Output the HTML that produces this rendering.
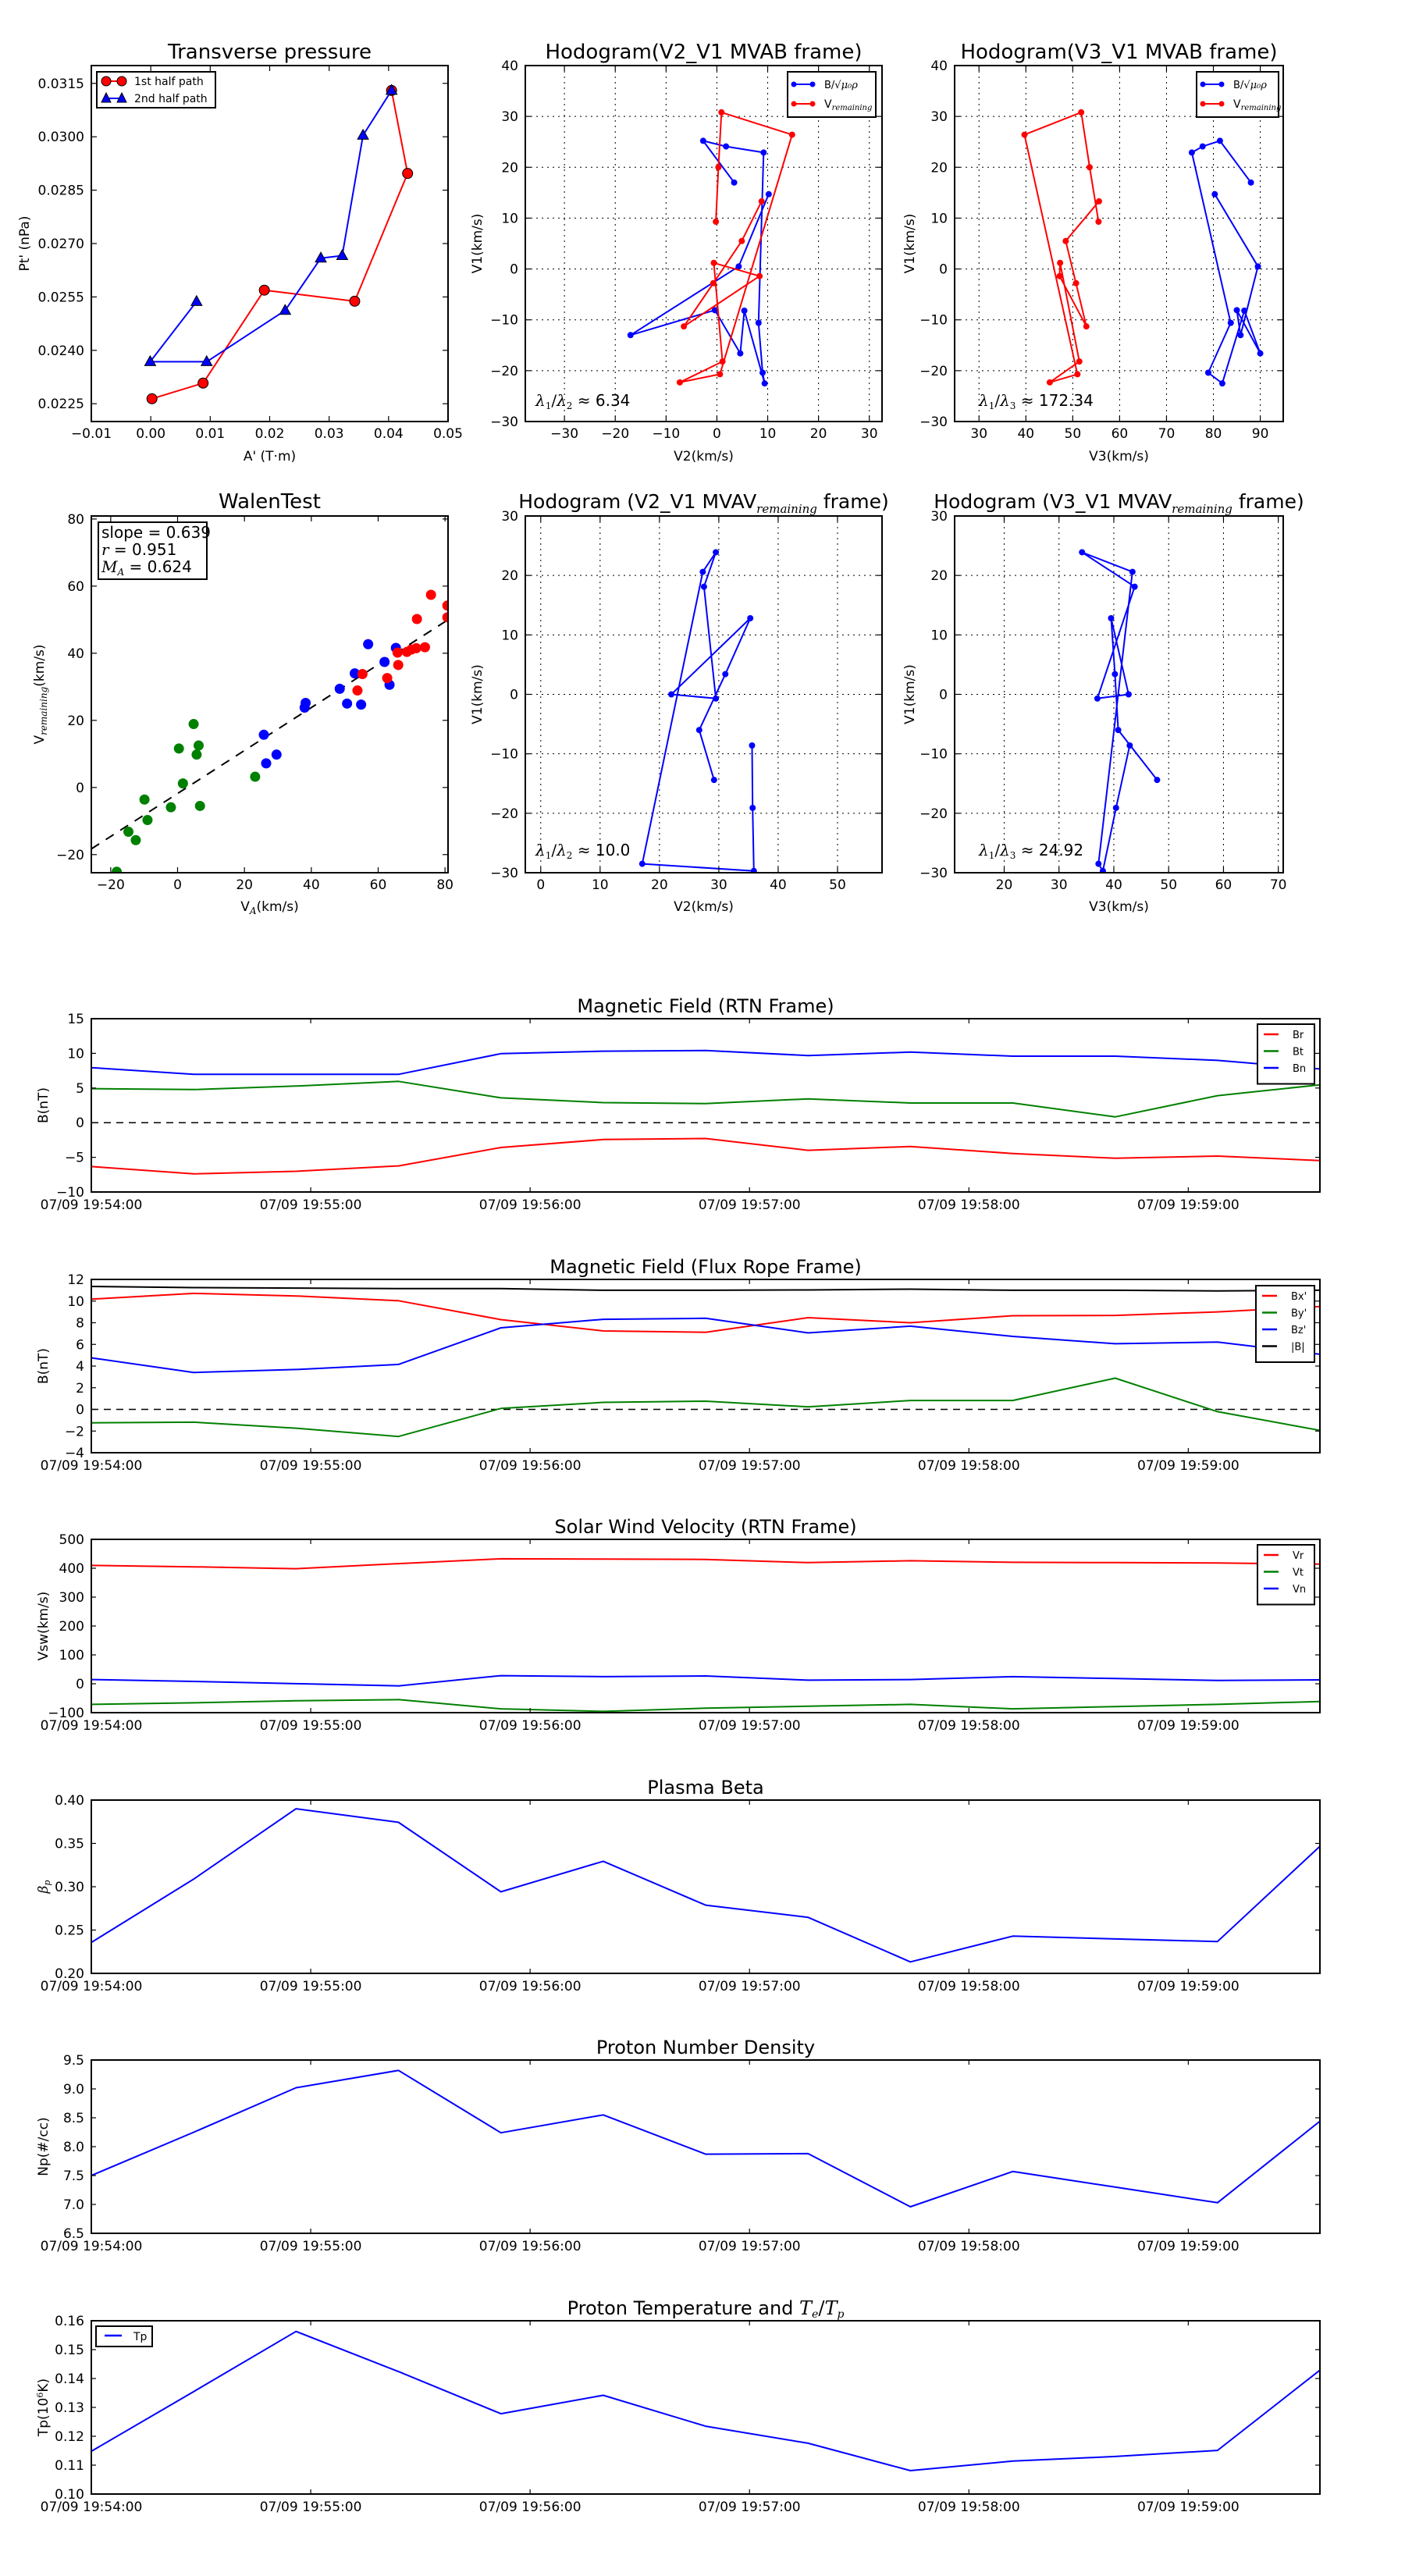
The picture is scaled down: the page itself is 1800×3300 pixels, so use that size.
<!DOCTYPE html>
<html><head><meta charset="utf-8"><title>Flux rope analysis</title>
<style>html,body{margin:0;padding:0;background:#fff}svg{display:block}</style></head>
<body>
<svg id="fig" width="1800" height="3300" viewBox="0 0 1800 3300" xmlns="http://www.w3.org/2000/svg">
<rect x="0" y="0" width="1800" height="3300" fill="#fff"/>
</svg>
<script>
// ---------- Transverse pressure ----------
const ptA1 = [0.0002, 0.0088, 0.0191, 0.0343, 0.0432, 0.0405];
const ptP1 = [0.02264, 0.02308, 0.02569, 0.02538, 0.02897, 0.0313];
const ptA2 = [0.0405, 0.0357, 0.0322, 0.0286, 0.0226, 0.0094, -0.0001, 0.0077];
const ptP2 = [0.0313, 0.03004, 0.02666, 0.02659, 0.02512, 0.02368, 0.02368, 0.02537];
const ptXTicks = [-0.01, 0, 0.01, 0.02, 0.03, 0.04, 0.05];
const ptXLabels = ['\u22120.01', '0.00', '0.01', '0.02', '0.03', '0.04', '0.05'];
const ptYTicks = [0.0225, 0.024, 0.0255, 0.027, 0.0285, 0.03, 0.0315];
const ptYLabels = ['0.0225', '0.0240', '0.0255', '0.0270', '0.0285', '0.0300', '0.0315'];
// ---------- Hodogram MVAB ----------
const hbV2 = [3.4, -2.7, 1.8, 9.2, 8.2, 9.0, 9.4, 5.4, 4.6, -0.4, -17.0, 4.3, 10.2];
const hbV1 = [17.0, 25.2, 24.1, 22.9, -10.6, -20.4, -22.5, -8.2, -16.6, -8.1, -13.0, 0.5, 14.7];
const hbV3 = [88.0, 81.4, 77.7, 75.4, 83.7, 78.9, 81.9, 86.6, 90.0, 85.0, 85.8, 89.5, 80.3];
const hrV2 = [8.8, 4.9, -0.7, -6.5, 8.4, -0.6, 1.1, -7.3, 0.6, 14.8, 0.9, 0.3, -0.2];
const hrV1 = [13.3, 5.5, -2.8, -11.3, -1.4, 1.2, -18.2, -22.3, -20.7, 26.4, 30.8, 20.0, 9.3];
const hrV3 = [55.6, 48.5, 50.7, 52.9, 47.2, 47.3, 51.4, 45.1, 51.0, 39.7, 51.8, 53.6, 55.5];
const ratioAB12 = '6.34';
const ratioAB13 = '172.34';
// ---------- Walen test ----------
const walenGreenX = [-18.2, -14.7, -12.5, -9.9, -9.0, -2.0, 0.4, 1.6, 4.8, 5.7, 6.3, 6.7, 23.2];
const walenGreenY = [-25.1, -13.2, -15.7, -3.6, -9.7, -5.9, 11.6, 1.2, 18.9, 9.8, 12.5, -5.5, 3.2];
const walenBlueX = [25.8, 26.5, 29.6, 38.0, 38.3, 48.5, 50.7, 53.0, 54.9, 57.0, 61.9, 63.4, 65.3];
const walenBlueY = [15.7, 7.2, 9.8, 23.8, 25.2, 29.4, 25.0, 34.0, 24.7, 42.7, 37.4, 30.6, 41.6];
const walenRedX = [53.8, 55.3, 62.7, 65.8, 66.0, 68.6, 69.9, 71.4, 71.6, 74.0, 75.8, 80.7, 80.7];
const walenRedY = [28.9, 33.8, 32.6, 40.2, 36.5, 40.4, 41.1, 41.5, 50.2, 41.8, 57.4, 54.2, 50.7];
const walenFit = [0.640, -1.79];
const walenTicks = [-20, 0, 20, 40, 60, 80];
// ---------- Hodogram MVAV ----------
const hvV2 = [29.2, 26.7, 31.1, 35.3, 22.0, 29.5, 27.5, 29.5, 27.3, 17.1, 35.9, 35.7, 35.6];
const hvV1 = [-14.4, -6.0, 3.4, 12.8, 0.0, -0.7, 18.1, 23.9, 20.6, -28.5, -29.7, -19.1, -8.6];
const hvV3 = [47.9, 40.8, 40.2, 39.5, 42.7, 37.0, 43.8, 34.2, 43.4, 37.2, 38.0, 40.4, 42.9];
const ratioAV12 = '10.0';
const ratioAV13 = '24.92';
// ---------- Time series ----------
const tSec = [0, 28, 56, 84, 112, 140, 168, 196, 224, 252, 280, 308, 336];
const timeTickSec = [0, 60, 120, 180, 240, 300];
const timeTickLabels = ['07/09 19:54:00', '07/09 19:55:00', '07/09 19:56:00', '07/09 19:57:00', '07/09 19:58:00', '07/09 19:59:00'];
const Br = [-6.33, -7.39, -7.02, -6.24, -3.58, -2.43, -2.29, -3.99, -3.44, -4.45, -5.14, -4.82, -5.46];
const Bt = [4.91, 4.77, 5.28, 5.96, 3.58, 2.89, 2.75, 3.44, 2.84, 2.84, 0.83, 3.9, 5.46];
const Bn = [7.94, 6.97, 6.97, 6.97, 9.95, 10.32, 10.41, 9.68, 10.18, 9.59, 9.59, 8.99, 7.75];
const Bx1 = [10.18, 10.71, 10.47, 10.03, 8.29, 7.24, 7.12, 8.47, 8.0, 8.65, 8.68, 9.0, 9.5];
const By1 = [-1.24, -1.18, -1.74, -2.5, 0.09, 0.65, 0.76, 0.24, 0.82, 0.82, 2.88, -0.21, -1.94];
const Bz1 = [4.76, 3.41, 3.68, 4.15, 7.53, 8.32, 8.41, 7.06, 7.68, 6.74, 6.06, 6.21, 5.09];
const Bmag = [11.35, 11.24, 11.2, 11.15, 11.15, 11.0, 11.0, 11.03, 11.1, 11.0, 11.0, 10.94, 11.0];
const Vr = [409.6, 405, 398.5, 416, 432.7, 431.6, 430.5, 419.5, 426, 420.6, 419.5, 418.4, 414];
const Vt = [-71.3, -66, -59, -54.8, -86.7, -95.6, -84.5, -77.9, -71.3, -86.7, -79, -71.3, -61.4];
const Vn = [14.7, 8, 0.4, -7.3, 28, 24.7, 27, 12.5, 14.7, 24.7, 18, 11.4, 13.6];
const beta = [0.2357, 0.3088, 0.390, 0.3743, 0.2941, 0.3294, 0.2787, 0.2647, 0.2132, 0.2430, 0.2397, 0.2368, 0.3467];
const Np = [7.50, 8.25, 9.02, 9.32, 8.24, 8.55, 7.87, 7.88, 6.96, 7.57, 7.30, 7.03, 8.44];
const Tp = [0.1148, 0.1355, 0.1563, 0.1424, 0.1278, 0.1342, 0.1235, 0.1176, 0.1081, 0.1114, 0.1130, 0.1151, 0.1429];

const NS = 'http://www.w3.org/2000/svg';
const svg = document.getElementById('fig');
const FONT = "'DejaVu Sans', 'Liberation Sans', sans-serif";
const SERIF = "'DejaVu Serif', 'Liberation Serif', serif";
function mk(tag, attrs, parent) {
  const e = document.createElementNS(NS, tag);
  for (const k in attrs) e.setAttribute(k, attrs[k]);
  (parent || svg).appendChild(e);
  return e;
}
function nm(e, n, i) {
  
  
  return e;
}
function txt(parent, x, y, s, size, anchor, extra) {
  const a = { x: x, y: y, 'font-family': FONT, 'font-size': size, fill: '#000', 'text-anchor': anchor || 'start' };
  if (extra) for (const k in extra) a[k] = extra[k];
  const t = mk('text', a, parent);
  t.textContent = s;
  return t;
}
let clipId = 0;
function axes(o) {
  const g = mk('g', {});
  nm(g, o.name, false);
  const sx = v => o.x0 + (v - o.xmin) / (o.xmax - o.xmin) * (o.x1 - o.x0);
  const sy = v => o.y1 - (v - o.ymin) / (o.ymax - o.ymin) * (o.y1 - o.y0);
  const fs = o.fs || 17;
  const tl = o.tl || 7;
  clipId++;
  const cp = mk('clipPath', { id: 'c' + clipId }, g);
  mk('rect', { x: o.x0, y: o.y0, width: o.x1 - o.x0, height: o.y1 - o.y0 }, cp);
  if (o.grid) {
    const gg = mk('g', {}, g);
    nm(gg, o.name + '-grid', false);
    o.xticks.forEach(v => { const l = mk('line', { x1: sx(v), x2: sx(v), y1: o.y0, y2: o.y1, stroke: '#000', 'stroke-width': 1, 'stroke-dasharray': '2,5' }, gg); nm(l, 'grid-line-x', false); });
    o.yticks.forEach(v => { const l = mk('line', { y1: sy(v), y2: sy(v), x1: o.x0, x2: o.x1, stroke: '#000', 'stroke-width': 1, 'stroke-dasharray': '2,5' }, gg); nm(l, 'grid-line-y', false); });
  }
  const data = mk('g', { 'clip-path': 'url(#c' + clipId + ')' }, g);
  nm(data, o.name + '-plot-area', false);
  const tg = mk('g', {}, g);
  nm(tg, o.name + '-ticks', false);
  o.xticks.forEach((v, i) => {
    const x = sx(v);
    mk('line', { x1: x, x2: x, y1: o.y1, y2: o.y1 - tl, stroke: '#000', 'stroke-width': 1.2 }, tg);
    mk('line', { x1: x, x2: x, y1: o.y0, y2: o.y0 + tl, stroke: '#000', 'stroke-width': 1.2 }, tg);
    const t = txt(tg, x, o.y1 + (o.xlabOff || 21), o.xlabels[i], fs, 'middle');
    nm(t, 'x-tick-label', false);
  });
  o.yticks.forEach((v, i) => {
    const y = sy(v);
    mk('line', { x1: o.x0, x2: o.x0 + tl, y1: y, y2: y, stroke: '#000', 'stroke-width': 1.2 }, tg);
    mk('line', { x1: o.x1, x2: o.x1 - tl, y1: y, y2: y, stroke: '#000', 'stroke-width': 1.2 }, tg);
    const t = txt(tg, o.x0 - 9, y + 6, o.ylabels[i], fs, 'end');
    nm(t, 'y-tick-label', false);
  });
  const fr = mk('rect', { x: o.x0, y: o.y0, width: o.x1 - o.x0, height: o.y1 - o.y0, fill: 'none', stroke: '#000', 'stroke-width': 2 }, g);
  nm(fr, o.name + '-frame', false);
  if (o.title) {
    const t = txt(g, (o.x0 + o.x1) / 2, o.titleY, '', o.titleFs || 26, 'middle');
    if (typeof o.title === 'string') t.textContent = o.title;
    else o.title(t);
    nm(t, 'chart-title', false);
  }
  if (o.xlabel) {
    const t = txt(g, (o.x0 + o.x1) / 2, o.xlabelY, '', fs, 'middle');
    if (typeof o.xlabel === 'string') t.textContent = o.xlabel; else o.xlabel(t);
    nm(t, 'x-axis-title', false);
  }
  if (o.ylabel) {
    const cy = (o.y0 + o.y1) / 2;
    const t = txt(g, o.ylabelX, cy, '', fs, 'middle', { transform: 'rotate(-90 ' + o.ylabelX + ' ' + cy + ')' });
    if (typeof o.ylabel === 'string') t.textContent = o.ylabel; else o.ylabel(t);
    nm(t, 'y-axis-title', false);
  }
  return { g: g, data: data, sx: sx, sy: sy };
}
function sub(t, s, size, dy, italic) {
  const sp = mk('tspan', { 'font-family': SERIF, 'font-size': size, dy: dy }, t);
  if (italic) sp.setAttribute('font-style', 'italic');
  sp.textContent = s;
  return sp;
}
function plain(t, s, dy) {
  const sp = mk('tspan', { dy: dy || 0 }, t);
  sp.textContent = s;
  return sp;
}
function pathD(ax, xs, ys) {
  return xs.map((v, i) => (i ? 'L' : 'M') + ax.sx(v).toFixed(1) + ',' + ax.sy(ys[i]).toFixed(1)).join(' ');
}
function series(ax, xs, ys, color, w, name, dotR) {
  const g = mk('g', {}, ax.data);
  nm(g, name, false);
  const p = mk('path', { d: pathD(ax, xs, ys), fill: 'none', stroke: color, 'stroke-width': w, 'stroke-linejoin': 'round' }, g);
  nm(p, name + '-line', false);
  if (dotR) xs.forEach((v, i) => {
    const c = mk('circle', { cx: ax.sx(v), cy: ax.sy(ys[i]), r: dotR, fill: color }, g);
    nm(c, name + '-point', false);
  });
  return g;
}
function box(parent, x, y, w, h, name) {
  const g = mk('g', {}, parent);
  nm(g, name, false);
  mk('rect', { x: x, y: y, width: w, height: h, fill: '#fff', stroke: '#000', 'stroke-width': 2 }, g);
  return g;
}
function vremTitle(t, pre, post) {
  plain(t, pre);
  sub(t, 'remaining', 15, 6, true);
  plain(t, post, -6);
}

// ================= Transverse pressure =================
(function () {
  const ax = axes({ name: 'transverse-pressure-chart', x0: 117, x1: 574, y0: 84, y1: 540, xmin: -0.01, xmax: 0.05, ymin: 0.022, ymax: 0.032,
    xticks: ptXTicks, xlabels: ptXLabels, yticks: ptYTicks, ylabels: ptYLabels,
    title: 'Transverse pressure', titleY: 75, xlabel: "A' (T\u00b7m)", xlabelY: 590, ylabel: "Pt' (nPa)", ylabelX: 37 });
  const g1 = series(ax, ptA1, ptP1, '#ff0000', 2, 'first-half-path');
  ptA1.forEach((v, i) => {
    const c = mk('circle', { cx: ax.sx(v), cy: ax.sy(ptP1[i]), r: 6.5, fill: '#ff0000', stroke: '#000', 'stroke-width': 1 }, g1);
    nm(c, 'first-half-marker', false);
  });
  const g2 = series(ax, ptA2, ptP2, '#0000ff', 2, 'second-half-path');
  ptA2.forEach((v, i) => {
    const x = ax.sx(v), y = ax.sy(ptP2[i]);
    const tri = mk('polygon', { points: (x) + ',' + (y - 7.5) + ' ' + (x - 7) + ',' + (y + 5) + ' ' + (x + 7) + ',' + (y + 5), fill: '#0000ff', stroke: '#000', 'stroke-width': 1 }, g2);
    nm(tri, 'second-half-marker', false);
  });
  const lg = box(ax.g, 124, 92, 152, 46, 'legend');
  mk('line', { x1: 136, x2: 156, y1: 104, y2: 104, stroke: '#ff0000', 'stroke-width': 2 }, lg);
  mk('circle', { cx: 136, cy: 104, r: 6, fill: '#ff0000', stroke: '#000' }, lg);
  mk('circle', { cx: 156, cy: 104, r: 6, fill: '#ff0000', stroke: '#000' }, lg);
  nm(txt(lg, 172, 109, '1st half path', 14), 'legend-entry-first-half', false);
  mk('line', { x1: 136, x2: 156, y1: 126, y2: 126, stroke: '#0000ff', 'stroke-width': 2 }, lg);
  mk('polygon', { points: '136,119 130,131 142,131', fill: '#0000ff', stroke: '#000' }, lg);
  mk('polygon', { points: '156,119 150,131 162,131', fill: '#0000ff', stroke: '#000' }, lg);
  nm(txt(lg, 172, 131, '2nd half path', 14), 'legend-entry-second-half', false);
})();

function hodoLegend(parent, x, y, w, name) {
  const lg = box(parent, x, y, w, 58, name);
  mk('line', { x1: x + 8, x2: x + 32, y1: y + 16, y2: y + 16, stroke: '#0000ff', 'stroke-width': 2 }, lg);
  mk('circle', { cx: x + 8, cy: y + 16, r: 3.5, fill: '#0000ff' }, lg);
  mk('circle', { cx: x + 32, cy: y + 16, r: 3.5, fill: '#0000ff' }, lg);
  const t1 = txt(lg, x + 47, y + 21, 'B/\u221a', 13);
  sub(t1, '\u03bc\u2080\u03c1', 13, 0, true);
  nm(t1, 'legend-entry-b-alfven', false);
  mk('line', { x1: x + 8, x2: x + 32, y1: y + 41, y2: y + 41, stroke: '#ff0000', 'stroke-width': 2 }, lg);
  mk('circle', { cx: x + 8, cy: y + 41, r: 3.5, fill: '#ff0000' }, lg);
  mk('circle', { cx: x + 32, cy: y + 41, r: 3.5, fill: '#ff0000' }, lg);
  const t2 = txt(lg, x + 47, y + 46, 'V', 14);
  sub(t2, 'remaining', 10, 3, true);
  nm(t2, 'legend-entry-v-remaining', false);
}
function ratioText(parent, x, y, a, b, val) {
  const t = txt(parent, x, y, '', 20);
  sub(t, '\u03bb', 20, 0, true);
  sub(t, a, 12, 4, false);
  sub(t, '/', 20, -4, false);
  sub(t, '\u03bb', 20, 0, true);
  sub(t, b, 12, 4, false);
  plain(t, ' \u2248 ' + val, -4);
  nm(t, 'eigenvalue-ratio-label', false);
}

// ================= Hodogram V2_V1 MVAB =================
(function () {
  const ax = axes({ name: 'hodogram-v2-v1-mvab', x0: 673, x1: 1130, y0: 84, y1: 540, xmin: -37.7, xmax: 32.5, ymin: -30, ymax: 40,
    xticks: [-30, -20, -10, 0, 10, 20, 30], xlabels: ['\u221230', '\u221220', '\u221210', '0', '10', '20', '30'],
    yticks: [-30, -20, -10, 0, 10, 20, 30, 40], ylabels: ['\u221230', '\u221220', '\u221210', '0', '10', '20', '30', '40'], grid: true,
    title: 'Hodogram(V2_V1 MVAB frame)', titleY: 75, xlabel: 'V2(km/s)', xlabelY: 590, ylabel: 'V1(km/s)', ylabelX: 617 });
  series(ax, hbV2, hbV1, '#0000ff', 2, 'b-alfven-series', 4);
  series(ax, hrV2, hrV1, '#ff0000', 2, 'v-remaining-series', 4);
  hodoLegend(ax.g, 1009, 92, 113, 'legend');
  ratioText(ax.g, 686, 520, '1', '2', ratioAB12);
})();

// ================= Hodogram V3_V1 MVAB =================
(function () {
  const ax = axes({ name: 'hodogram-v3-v1-mvab', x0: 1223, x1: 1644, y0: 84, y1: 540, xmin: 24.8, xmax: 94.9, ymin: -30, ymax: 40,
    xticks: [30, 40, 50, 60, 70, 80, 90], xlabels: ['30', '40', '50', '60', '70', '80', '90'],
    yticks: [-30, -20, -10, 0, 10, 20, 30, 40], ylabels: ['\u221230', '\u221220', '\u221210', '0', '10', '20', '30', '40'], grid: true,
    title: 'Hodogram(V3_V1 MVAB frame)', titleY: 75, xlabel: 'V3(km/s)', xlabelY: 590, ylabel: 'V1(km/s)', ylabelX: 1171 });
  series(ax, hbV3, hbV1, '#0000ff', 2, 'b-alfven-series', 4);
  series(ax, hrV3, hrV1, '#ff0000', 2, 'v-remaining-series', 4);
  hodoLegend(ax.g, 1533, 92, 105, 'legend');
  ratioText(ax.g, 1254, 520, '1', '3', ratioAB13);
})();

// ================= Walen test =================
(function () {
  const ax = axes({ name: 'walen-test-chart', x0: 117, x1: 574, y0: 661, y1: 1118, xmin: -25.8, xmax: 80.9, ymin: -25.4, ymax: 80.9,
    xticks: walenTicks, xlabels: ['\u221220', '0', '20', '40', '60', '80'], yticks: walenTicks, ylabels: ['\u221220', '0', '20', '40', '60', '80'],
    title: 'WalenTest', titleY: 651, xlabel: function (t) { plain(t, 'V'); sub(t, 'A', 12, 4, true); plain(t, '(km/s)', -4); }, xlabelY: 1167,
    ylabel: function (t) { plain(t, 'V'); sub(t, 'remaining', 12, 4, true); plain(t, '(km/s)', -4); }, ylabelX: 56 });
  const fitX = [ax.sx(-25.8), ax.sx(80.9)];
  const fl = mk('line', { x1: fitX[0], y1: ax.sy(walenFit[0] * -25.8 + walenFit[1]), x2: fitX[1], y2: ax.sy(walenFit[0] * 80.9 + walenFit[1]), stroke: '#000', 'stroke-width': 2, 'stroke-dasharray': '12,10' }, ax.data);
  nm(fl, 'regression-line', false);
  [[walenGreenX, walenGreenY, '#008000', 'green-points'], [walenBlueX, walenBlueY, '#0000ff', 'blue-points'], [walenRedX, walenRedY, '#ff0000', 'red-points']].forEach(s => {
    const g = mk('g', {}, ax.data);
    nm(g, s[3], false);
    s[0].forEach((v, i) => {
      const c = mk('circle', { cx: ax.sx(v), cy: ax.sy(s[1][i]), r: 6.5, fill: s[2] }, g);
      nm(c, 'walen-point', false);
    });
  });
  const b = box(ax.g, 126, 669, 139, 73, 'walen-stats-box');
  nm(txt(b, 130, 689, 'slope = 0.639', 20), 'slope-label', false);
  const t2 = txt(b, 130, 711, '', 20);
  sub(t2, 'r', 20, 0, true); plain(t2, ' = 0.951');
  nm(t2, 'correlation-label', false);
  const t3 = txt(b, 130, 733, '', 20);
  sub(t3, 'M', 20, 0, true); sub(t3, 'A', 12, 4, true); plain(t3, ' = 0.624', -4);
  nm(t3, 'alfven-mach-label', false);
})();

// ================= Hodogram V2_V1 MVAV =================
(function () {
  const ax = axes({ name: 'hodogram-v2-v1-mvav', x0: 673, x1: 1130, y0: 661, y1: 1118, xmin: -2.6, xmax: 57.5, ymin: -30, ymax: 30,
    xticks: [0, 10, 20, 30, 40, 50], xlabels: ['0', '10', '20', '30', '40', '50'],
    yticks: [-30, -20, -10, 0, 10, 20, 30], ylabels: ['\u221230', '\u221220', '\u221210', '0', '10', '20', '30'], grid: true,
    title: function (t) { vremTitle(t, 'Hodogram (V2_V1 MVAV', ' frame)'); }, titleY: 651, titleFs: 25, xlabel: 'V2(km/s)', xlabelY: 1167, ylabel: 'V1(km/s)', ylabelX: 617 });
  series(ax, hvV2, hvV1, '#0000ff', 2, 'mvav-series', 4);
  ratioText(ax.g, 686, 1096, '1', '2', ratioAV12);
})();

// ================= Hodogram V3_V1 MVAV =================
(function () {
  const ax = axes({ name: 'hodogram-v3-v1-mvav', x0: 1223, x1: 1644, y0: 661, y1: 1118, xmin: 10.96, xmax: 70.9, ymin: -30, ymax: 30,
    xticks: [20, 30, 40, 50, 60, 70], xlabels: ['20', '30', '40', '50', '60', '70'],
    yticks: [-30, -20, -10, 0, 10, 20, 30], ylabels: ['\u221230', '\u221220', '\u221210', '0', '10', '20', '30'], grid: true,
    title: function (t) { vremTitle(t, 'Hodogram (V3_V1 MVAV', ' frame)'); }, titleY: 651, titleFs: 25, xlabel: 'V3(km/s)', xlabelY: 1167, ylabel: 'V1(km/s)', ylabelX: 1171 });
  series(ax, hvV3, hvV1, '#0000ff', 2, 'mvav-series', 4);
  ratioText(ax.g, 1254, 1096, '1', '3', ratioAV13);
})();

// ================= Time series =================
function tsAxes(name, top, ymin, ymax, yticks, ylabels, title, ylabel) {
  return axes({ name: name, x0: 117, x1: 1691, y0: top, y1: top + 222, xmin: 0, xmax: 336, ymin: ymin, ymax: ymax,
    xticks: timeTickSec, xlabels: timeTickLabels, yticks: yticks, ylabels: ylabels, tl: 6, xlabOff: 22,
    title: title, titleY: top - 8, titleFs: 24, ylabel: ylabel, ylabelX: 61 });
}
function zeroLine(ax) {
  const l = mk('line', { x1: 117, x2: 1691, y1: ax.sy(0), y2: ax.sy(0), stroke: '#000', 'stroke-width': 1.5, 'stroke-dasharray': '9,7' }, ax.data);
  nm(l, 'zero-reference-line', false);
}
function tsLegend(parent, x, y, w, entries) {
  const lg = box(parent, x, y, w, 12 + entries.length * 21.5, 'legend');
  entries.forEach((e, i) => {
    const yy = y + 13 + i * 21.5;
    mk('line', { x1: x + 8, x2: x + 27, y1: yy, y2: yy, stroke: e[1], 'stroke-width': 2.5 }, lg);
    nm(txt(lg, x + 45, yy + 5, e[0], 13), 'legend-entry-' + e[2], false);
  });
}
(function () {
  const ax = tsAxes('magnetic-field-rtn-chart', 1305, -10, 15, [-10, -5, 0, 5, 10, 15], ['\u221210', '\u22125', '0', '5', '10', '15'], 'Magnetic Field (RTN Frame)', 'B(nT)');
  zeroLine(ax);
  series(ax, tSec, Br, '#ff0000', 2, 'br-series');
  series(ax, tSec, Bt, '#008000', 2, 'bt-series');
  series(ax, tSec, Bn, '#0000ff', 2, 'bn-series');
  tsLegend(ax.g, 1611, 1312, 73, [['Br', '#ff0000', 'br'], ['Bt', '#008000', 'bt'], ['Bn', '#0000ff', 'bn']]);
})();
(function () {
  const ax = tsAxes('magnetic-field-flux-rope-chart', 1639, -4, 12, [-4, -2, 0, 2, 4, 6, 8, 10, 12], ['\u22124', '\u22122', '0', '2', '4', '6', '8', '10', '12'], 'Magnetic Field (Flux Rope Frame)', 'B(nT)');
  zeroLine(ax);
  series(ax, tSec, Bx1, '#ff0000', 2, 'bx-series');
  series(ax, tSec, By1, '#008000', 2, 'by-series');
  series(ax, tSec, Bz1, '#0000ff', 2, 'bz-series');
  series(ax, tSec, Bmag, '#000000', 2, 'b-magnitude-series');
  tsLegend(ax.g, 1609, 1647, 75, [["Bx'", '#ff0000', 'bx'], ["By'", '#008000', 'by'], ["Bz'", '#0000ff', 'bz'], ['|B|', '#000000', 'b-magnitude']]);
})();
(function () {
  const ax = tsAxes('solar-wind-velocity-chart', 1972, -100, 500, [-100, 0, 100, 200, 300, 400, 500], ['\u2212100', '0', '100', '200', '300', '400', '500'], 'Solar Wind Velocity (RTN Frame)', 'Vsw(km/s)');
  series(ax, tSec, Vr, '#ff0000', 2, 'vr-series');
  series(ax, tSec, Vt, '#008000', 2, 'vt-series');
  series(ax, tSec, Vn, '#0000ff', 2, 'vn-series');
  tsLegend(ax.g, 1611, 1979, 73, [['Vr', '#ff0000', 'vr'], ['Vt', '#008000', 'vt'], ['Vn', '#0000ff', 'vn']]);
})();
(function () {
  const ax = tsAxes('plasma-beta-chart', 2306, 0.2, 0.4, [0.2, 0.25, 0.3, 0.35, 0.4], ['0.20', '0.25', '0.30', '0.35', '0.40'], 'Plasma Beta',
    function (t) { sub(t, '\u03b2', 17, 0, true); sub(t, 'p', 11, 3, true); });
  series(ax, tSec, beta, '#0000ff', 2, 'plasma-beta-series');
})();
(function () {
  const ax = tsAxes('proton-density-chart', 2639, 6.5, 9.5, [6.5, 7, 7.5, 8, 8.5, 9, 9.5], ['6.5', '7.0', '7.5', '8.0', '8.5', '9.0', '9.5'], 'Proton Number Density', 'Np(#/cc)');
  series(ax, tSec, Np, '#0000ff', 2, 'proton-density-series');
})();
(function () {
  const ax = tsAxes('proton-temperature-chart', 2973, 0.1, 0.16, [0.1, 0.11, 0.12, 0.13, 0.14, 0.15, 0.16], ['0.10', '0.11', '0.12', '0.13', '0.14', '0.15', '0.16'],
    function (t) { plain(t, 'Proton Temperature and '); sub(t, 'T', 24, 0, true); sub(t, 'e', 14, 4, true); sub(t, '/', 24, -4, false); sub(t, 'T', 24, 0, true); sub(t, 'p', 14, 4, true); },
    function (t) { plain(t, 'Tp(10'); sub(t, '6', 11, -6, false); plain(t, 'K)', 6); });
  series(ax, tSec, Tp, '#0000ff', 2, 'proton-temperature-series');
  const lg = box(ax.g, 123, 2980, 72, 26, 'legend');
  mk('line', { x1: 134, x2: 156, y1: 2992, y2: 2992, stroke: '#0000ff', 'stroke-width': 2.5 }, lg);
  nm(txt(lg, 171, 2998, 'Tp', 14), 'legend-entry-tp', false);
})();
</script>
</body></html>
